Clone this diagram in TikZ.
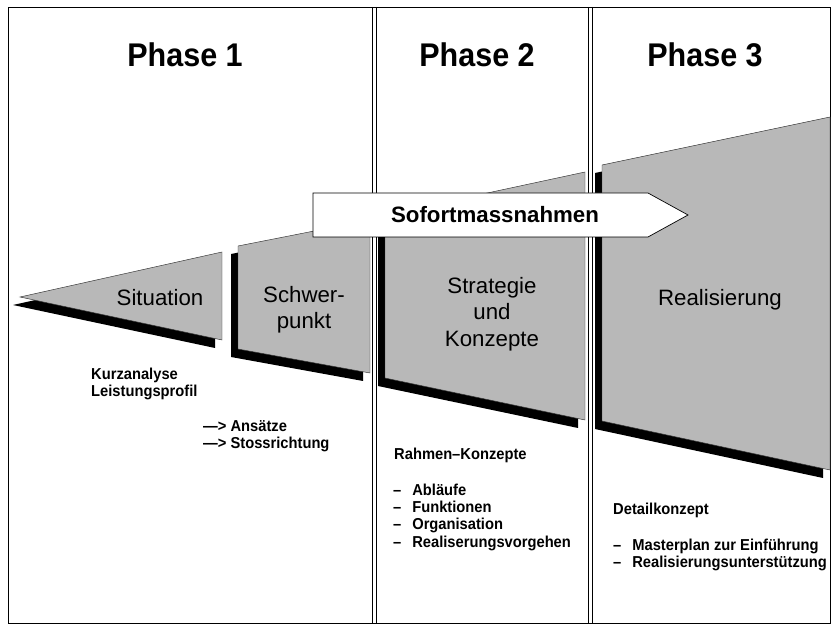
\documentclass[tikz,border=0pt]{standalone}
\usepackage{fontspec}
\setmainfont{Liberation Sans}
\usetikzlibrary{calc,positioning}
\newcommand{\listdash}{\makebox[1.3em][l]{–}}

\begin{document}
\begin{tikzpicture}[x=0.03cm,y=-0.03cm]

\tikzset{phasetitle/.style={font=\fontsize{28}{30}\selectfont\bfseries,inner sep=0pt,xscale=0.93},
stage/.style={fill=black!28,draw=black!80,line width=0.4pt,preaction={fill=black,transform canvas={shift={(-7,8)}}}},
stagelabel/.style={font=\fontsize{19}{22}\selectfont,align=center,inner sep=0pt},
notes/.style={font=\fontsize{13.5}{14.8}\selectfont\bfseries,align=left,inner sep=0pt,anchor=west,xscale=0.93}}

\useasboundingbox (0,0) rectangle (832,626);

% Frame and phase columns
\draw[line width=0.6pt] (8,7) rectangle (830,623);
\foreach \x in {372, 376, 588, 592} \draw[line width=0.6pt] (\x,7) -- (\x,623);

% Phase titles
\node[phasetitle] (phaseI) at (185,55) {Phase 1};
\node[phasetitle] (phaseII) at (477,55) {Phase 2};
\node[phasetitle] (phaseIII) at (705,55) {Phase 3};

% Stages, widening from left to right
\draw[stage] (20,297) -- (222,252) -- (222,340) -- cycle;
\draw[stage] (238,246) -- (370,220) -- (370,373) -- (238,349) -- cycle;
\draw[stage] (385,215) -- (585,172) -- (585,420) -- (385,378) -- cycle;
\draw[stage] (602,165) -- (830,117) -- (830,470) -- (602,421) -- cycle;

\node[stagelabel] (situation) at (160,298) {Situation};
\node[stagelabel] (schwerpunkt) at (304,310) {Schwer-\\punkt};
\node[stagelabel,font=\fontsize{19}{22.5}\selectfont] (strategie) at (492,314) {Strategie\\und\\Konzepte};
\node[stagelabel] (realisierung) at (720,300) {Realisierung};

% Sofortmassnahmen arrow across the phases
\draw[fill=white,line width=0.6pt] (313,193) -- (648,193) -- (688,215) -- (648,237) -- (313,237) -- cycle;
\node[font=\fontsize{19}{22}\selectfont\bfseries,inner sep=0pt] (sofort) at (495,215) {Sofortmassnahmen};

% Notes below the stages
\node[notes] (kurz) at (91,384) {Kurzanalyse\\Leistungsprofil};
\node[notes] (ansaetze) at (203,436) {—> Ansätze\\—> Stossrichtung};
\node[notes] (rahmen) at (394,455) {Rahmen–Konzepte};
\node[notes] (rahmenlist) at (393,517) {\listdash Abläufe\\\listdash Funktionen\\\listdash Organisation\\\listdash Realiserungsvorgehen};
\node[notes] (detail) at (613,510) {Detailkonzept};
\node[notes] (detaillist) at (613,555) {\listdash Masterplan zur Einführung\\\listdash Realisierungsunterstützung};

\end{tikzpicture}
\end{document}
